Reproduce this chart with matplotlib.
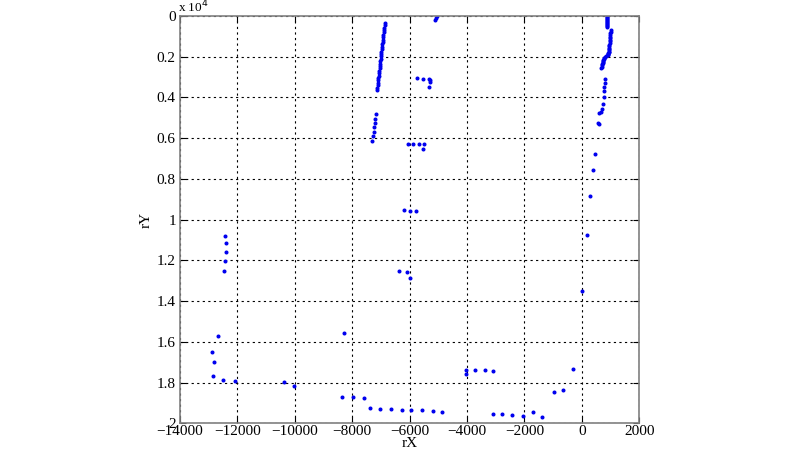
import matplotlib
matplotlib.use("Agg")
import matplotlib.pyplot as plt
from matplotlib.ticker import FuncFormatter

# data: rX, rY
rX = [
    # right dense line
    880, 882, 884, 882, 880, 882, 885, 883, 881, 884, 886, 884,
    1000, 1005, 998, 995, 990, 985, 980, 975, 970, 965, 960, 955, 950, 945, 940, 935, 930, 925, 920,
    900, 860, 800, 770, 760, 750, 740, 735, 725, 715, 705, 695, 685,
    # right sparse points
    812, 801, 777, 766, 766, 742, 721, 652, 582, 557, 582, 477, 373, 303, 185, -10,
    # steep line near -7000
    -6864, -6874, -6883, -6893, -6903, -6912, -6922, -6932, -6941, -6951, -6961, -6970,
    -6980, -6990, -6999, -7009, -7019, -7028, -7038, -7048, -7057, -7067, -7077, -7086,
    -7096, -7106, -7115, -7125, -7132,
    # cluster near -7200
    -7188, -7205, -7222, -7240, -7257, -7275, -7293,
    # top points near -5000
    -5040, -5080, -5120,
    # cluster near -5500 at 0.3
    -5725, -5530, -5321, -5272, -5296, -5321,
    # cluster near -6000 at 0.63
    -6052, -5878, -5679, -5505, -5530,
    # cluster near 0.95
    -6192, -5969, -5774,
    # cluster near 1.25
    -6376, -6108, -5993,
    # left cluster
    -12449, -12380, -12404, -12449, -12474,
    -12693, -12892, -12812, -12847, -12498, -12091,
    -10373, -10045, -8282,
    # bottom row
    -8338, -7955, -7585, -7387, -7038, -6645, -6282, -5934, -5551, -5192, -4854,
    -4042, -4042, -3718, -3390, -3077,
    -3111, -2777, -2415, -2066, -1697, -1383,
    -976, -652, -303,
]
rY = [
    0, 50, 100, 150, 200, 250, 300, 350, 400, 450, 500, 540,
    700, 780, 860, 940, 1020, 1100, 1180, 1260, 1340, 1420, 1500, 1570, 1640, 1700, 1760, 1800, 1840, 1870, 1900,
    1920, 1960, 2000, 2050, 2100, 2150, 2200, 2260, 2320, 2380, 2440, 2500, 2560,
    3118, 3284, 3510, 3691, 4000, 4328, 4588, 4706, 4784, 5275, 5300, 6779, 7549, 8838, 10735, 13480,
    343, 461, 579, 697, 814, 932, 1050, 1168, 1286, 1404, 1521, 1639,
    1757, 1875, 1993, 2111, 2229, 2346, 2464, 2582, 2700, 2818, 2936, 3054,
    3171, 3289, 3407, 3525, 3642,
    4833, 5049, 5265, 5480, 5696, 5911, 6127,
    0, 127, 210,
    3054, 3088, 3103, 3152, 3265, 3480,
    6275, 6275, 6304, 6304, 6549,
    9510, 9559, 9588,
    12515, 12549, 12858,
    10799, 11157, 11569, 12010, 12500,
    15686, 16500, 17010, 17696, 17858, 17907,
    17956, 18152, 15569,
    18706, 18706, 18775, 19245, 19294, 19294, 19328, 19328, 19363, 19392, 19426,
    17402, 17550, 17402, 17402, 17451,
    19559, 19559, 19588, 19622, 19426, 19672,
    18461, 18348, 17319,
]

x_ticks = [-14000, -12000, -10000, -8000, -6000, -4000, -2000, 0, 2000]
y_ticks = [0, 2000, 4000, 6000, 8000, 10000, 12000, 14000, 16000, 18000, 20000]

plt.rcParams['font.family'] = ['Liberation Serif', 'DejaVu Serif']

fig = plt.figure(figsize=(8, 4.5), dpi=100)
ax = fig.add_axes([0.225, 0.059, 0.574, 0.906])

ax.plot(rX, rY, linestyle='none', marker='o', markersize=1.9,
        color='#0000ee', markeredgecolor='#0000ee')

ax.set_xlim(-14000, 2000)
ax.set_ylim(20000, 0)
ax.set_xticks(x_ticks)
ax.set_yticks(y_ticks)
ax.yaxis.set_major_formatter(FuncFormatter(lambda v, p: f"{v/1e4:g}"))
ax.grid(True, color='black', linestyle=(0, (2, 3)), linewidth=0.8)
ax.tick_params(direction='in', length=4, labelsize=11, colors='black',
               top=True, right=True)
ax.tick_params(axis='x', pad=1)
ax.tick_params(axis='y', pad=3)
for s in ax.spines.values():
    s.set_color('#808080')
    s.set_linewidth(1.2)

ax.set_ylabel('rY', fontsize=11, labelpad=3)
fig.text(0.512, 0.0, 'rX', fontsize=11, ha='center', va='bottom')
ax.text(-0.005, 1.0, r'x 10$^4$', transform=ax.transAxes, fontsize=9.5,
        ha='left', va='bottom')

fig.savefig('out.png', dpi=100, facecolor='white')
